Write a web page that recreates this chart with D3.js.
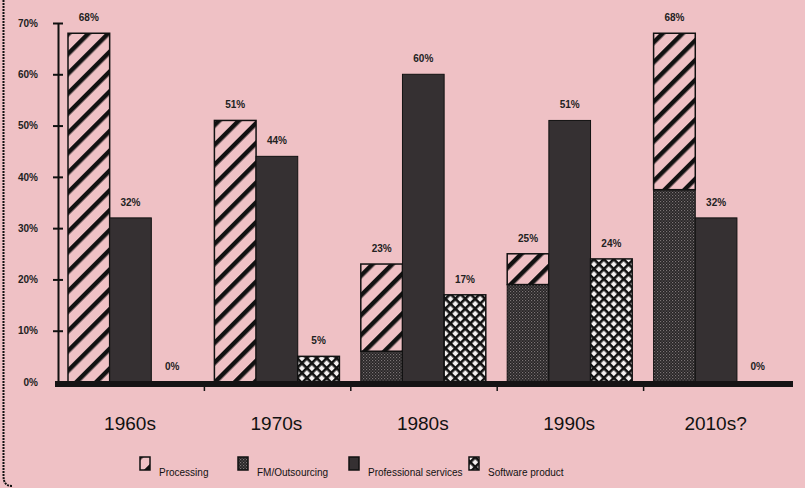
<!DOCTYPE html>
<html><head><meta charset="utf-8">
<script src="https://cdn.jsdelivr.net/npm/d3@7"></script>
<style>html,body{margin:0;padding:0;background:#efc1c5;}svg{display:block;}</style>
</head><body>
<svg id="chart" width="805" height="488"></svg>
<script>
const decades = ["1960s","1970s","1980s","1990s","2010s?"];
const processing = [68, 51, 17, 6, 30.5];
const fmOutsourcing = [0, 0, 6, 19, 37.5];
const professional = [32, 44, 60, 51, 32];
const software = [0, 5, 17, 24, 0];
const stackLabels = ["68%","51%","23%","25%","68%"];
const profLabels = ["32%","44%","60%","51%","32%"];
const softLabels = ["0%","5%","17%","24%","0%"];
const yTicks = [0,10,20,30,40,50,60,70];
const legendItems = ["Processing","FM/Outsourcing","Professional services","Software product"];

const svg = d3.select("#chart");
const bg = "#efc1c5";
svg.append("rect").attr("width",805).attr("height",488).attr("fill",bg);

const defs = svg.append("defs");
// diagonal stripes
const pStripe = defs.append("pattern").attr("id","stripe").attr("patternUnits","userSpaceOnUse")
  .attr("width",14).attr("height",14).attr("patternTransform","rotate(45)");
pStripe.append("rect").attr("width",14).attr("height",14).attr("fill",bg);
pStripe.append("rect").attr("x",0).attr("width",4.5).attr("height",14).attr("fill","#111");
// stipple
const pDot = defs.append("pattern").attr("id","stipple").attr("patternUnits","userSpaceOnUse")
  .attr("width",3).attr("height",3);
pDot.append("rect").attr("width",3).attr("height",3).attr("fill","#262324");
pDot.append("rect").attr("x",0).attr("y",0).attr("width",1.2).attr("height",1.2).attr("fill","#7a7475");
pDot.append("rect").attr("x",1.5).attr("y",1.5).attr("width",1.2).attr("height",1.2).attr("fill","#625d5e");
// crosshatch
const pX = defs.append("pattern").attr("id","cross").attr("patternUnits","userSpaceOnUse")
  .attr("width",7).attr("height",7).attr("patternTransform","rotate(45)");
pX.append("rect").attr("width",7).attr("height",7).attr("fill","#f4f0f0");
pX.append("rect").attr("x",0).attr("y",0).attr("width",7).attr("height",2.6).attr("fill","#111");
pX.append("rect").attr("x",0).attr("y",0).attr("width",2.6).attr("height",7).attr("fill","#111");

const x = d3.scaleBand().domain(decades).range([58, 790]).padding(0);
const sub = d3.scaleBand().domain(["stack","prof","soft"]).range([10, 135]).padding(0);
const y = d3.scaleLinear().domain([0,70]).range([382, 23]);

const font = "'Liberation Sans', Arial, Helvetica, sans-serif";

// frame left
svg.append("path").attr("d","M3.5,0 L3.5,476 Q3.5,486 12,486")
  .attr("fill","none").attr("stroke","#111").attr("stroke-width",2).attr("stroke-dasharray","2,1");

const g = svg.append("g");
decades.forEach((d,i)=>{
  const x0 = x(d);
  const bw = sub.bandwidth();
  if (fmOutsourcing[i] > 0) {
    g.append("rect").attr("x",x0+sub("stack")).attr("y",y(fmOutsourcing[i]))
      .attr("width",bw).attr("height",y(0)-y(fmOutsourcing[i]))
      .attr("fill","url(#stipple)").attr("stroke","#111").attr("stroke-width",1);
  }
  const top = fmOutsourcing[i] + processing[i];
  g.append("rect").attr("x",x0+sub("stack")).attr("y",y(top))
    .attr("width",bw).attr("height",y(fmOutsourcing[i])-y(top))
    .attr("fill","url(#stripe)").attr("stroke","#111").attr("stroke-width",1.5);
  g.append("text").attr("x",x0+sub("stack")+bw/2).attr("y",y(top)-12)
    .attr("text-anchor","middle").attr("font-family",font).attr("font-weight","bold")
    .attr("font-size",10).attr("fill","#222").text(stackLabels[i]);
  g.append("rect").attr("x",x0+sub("prof")).attr("y",y(professional[i]))
    .attr("width",bw).attr("height",y(0)-y(professional[i]))
    .attr("fill","#353032").attr("stroke","#111").attr("stroke-width",1);
  g.append("text").attr("x",x0+sub("prof")+bw/2).attr("y",y(professional[i])-12)
    .attr("text-anchor","middle").attr("font-family",font).attr("font-weight","bold")
    .attr("font-size",10).attr("fill","#222").text(profLabels[i]);
  if (software[i] > 0) {
    g.append("rect").attr("x",x0+sub("soft")).attr("y",y(software[i]))
      .attr("width",bw).attr("height",y(0)-y(software[i]))
      .attr("fill","url(#cross)").attr("stroke","#111").attr("stroke-width",1.5);
  }
  g.append("text").attr("x",x0+sub("soft")+bw/2).attr("y",y(software[i])-12)
    .attr("text-anchor","middle").attr("font-family",font).attr("font-weight","bold")
    .attr("font-size",10).attr("fill","#222").text(softLabels[i]);
  g.append("text").attr("x",x0+72).attr("y",430)
    .attr("text-anchor","middle").attr("font-family",font)
    .attr("font-size",19).attr("fill","#111").text(d);
});

// y axis
const yAxis = d3.axisLeft(y).tickValues(yTicks).tickFormat(v=>v+"%").tickSize(5).tickSizeOuter(0);
const ya = svg.append("g").attr("transform","translate(58,0)").call(yAxis);
ya.select(".domain").attr("stroke","#111").attr("stroke-width",2);
ya.selectAll(".tick line").attr("stroke","#111").attr("stroke-width",2).attr("x1",5).attr("x2",-5);
ya.selectAll(".tick text").attr("font-family",font).attr("font-weight","bold")
  .attr("font-size",10).attr("fill","#222").attr("x",-20);
ya.select(".tick:first-of-type line").remove();

// x axis thick bar
svg.append("rect").attr("x",55).attr("y",y(0)-1).attr("width",738).attr("height",6).attr("fill","#151314");
const xa = svg.append("g").attr("transform",`translate(0,${y(0)+5})`);
decades.slice(1).forEach(d=>{
  xa.append("line").attr("x1",x(d)).attr("x2",x(d)).attr("y1",0).attr("y2",4)
    .attr("stroke","#111").attr("stroke-width",1.5);
});

// legend
const legX = [140, 238, 349, 469];
const fills = ["url(#stripe)","url(#stipple)","#353032","url(#cross)"];
const leg = svg.append("g");
legendItems.forEach((name,i)=>{
  leg.append("rect").attr("x",legX[i]).attr("y",457).attr("width",10).attr("height",13)
    .attr("fill",fills[i]).attr("stroke","#111").attr("stroke-width",1.5);
  leg.append("text").attr("x",legX[i]+19).attr("y",476).attr("font-family",font)
    .attr("font-size",10).attr("fill","#111").text(name);
});
</script>
</body></html>
